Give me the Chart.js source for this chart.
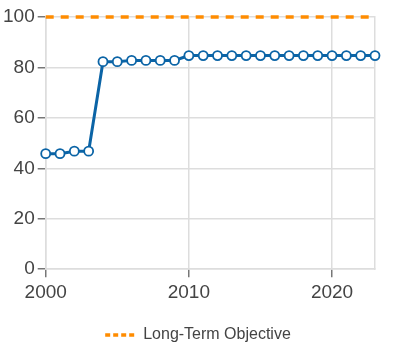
<!DOCTYPE html>
<html>
<head>
<meta charset="utf-8">
<script src="https://cdn.jsdelivr.net/npm/chart.js@4"></script>
<style>
  html, body { margin: 0; padding: 0; background: #fff; }
  #wrap { width: 406px; height: 348px; }
</style>
</head>
<body>
<div id="wrap"><canvas id="chart"></canvas></div>
<script>
// years and index values
const years = [2000, 2001, 2002, 2003, 2004, 2005, 2006, 2007, 2008, 2009, 2010, 2011,
               2012, 2013, 2014, 2015, 2016, 2017, 2018, 2019, 2020, 2021, 2022, 2023];
const values = [45.8, 45.8, 46.8, 46.8, 82.3, 82.3, 82.8, 82.8, 82.8, 82.8, 84.7, 84.7,
                84.7, 84.7, 84.7, 84.7, 84.7, 84.7, 84.7, 84.7, 84.7, 84.7, 84.7, 84.7];
// long-term target level
const objective = 100;
const objectiveLabel = 'Long-Term Objective';
const yTicks = [0, 20, 40, 60, 80, 100];
const xTicks = [2000, 2010, 2020];

const gridColor = '#dddddd';
const tickColor = '#777777';
const textColor = '#444444';

Chart.defaults.font.family = '"Liberation Sans", Arial, sans-serif';
Chart.defaults.color = textColor;

new Chart(document.getElementById('chart'), {
    type: 'line',
    data: {
        datasets: [
            {
                label: 'Index',
                data: years.map((y, i) => ({ x: y, y: values[i] })),
                borderColor: '#0b64a6',
                borderWidth: 3,
                pointRadius: 4.5,
                pointBorderWidth: 1.8,
                pointBackgroundColor: '#ffffff',
                pointBorderColor: '#0b64a6',
                tension: 0,
                clip: false
            },
            {
                label: objectiveLabel,
                data: [{ x: years[0], y: objective }, { x: years[years.length - 1], y: objective }],
                borderColor: '#ff8c00',
                backgroundColor: '#ff8c00',
                borderWidth: 3.5,
                borderDash: [8, 7],
                pointRadius: 0,
                pointStyle: 'line',
                clip: false
            }
        ]
    },
    options: {
        responsive: true,
        maintainAspectRatio: false,
        animation: false,
        layout: { padding: { left: 0, right: 10, top: 17, bottom: -5 } },
        scales: {
            x: {
                type: 'linear',
                min: years[0],
                max: years[years.length - 1],
                afterBuildTicks: axis => { axis.ticks = xTicks.map(v => ({ value: v })); },
                afterFit: axis => { axis.height += 16; },
                ticks: {
                    font: { size: 19 },
                    color: textColor,
                    padding: 4,
                    maxRotation: 0,
                    callback: v => String(v)
                },
                grid: { color: gridColor, tickColor: tickColor, tickLength: 8, lineWidth: 1.5 },
                border: { color: gridColor, width: 1.5 }
            },
            y: {
                min: 0,
                max: 100,
                afterBuildTicks: axis => { axis.ticks = yTicks.map(v => ({ value: v })); },
                ticks: { font: { size: 19 }, color: textColor, padding: 3 },
                grid: { color: gridColor, tickColor: tickColor, tickLength: 8, lineWidth: 1.5 },
                border: { color: gridColor, width: 1.5 }
            },
            // plain frame line on the right edge
            yRight: {
                position: 'right',
                min: 0,
                max: 100,
                afterFit: axis => { axis.width = 21; },
                ticks: { display: false },
                grid: { display: false },
                border: { color: gridColor, width: 1.5 }
            }
        },
        plugins: {
            legend: {
                position: 'bottom',
                labels: {
                    font: { size: 16 },
                    color: textColor,
                    usePointStyle: true,
                    pointStyleWidth: 30,
                    boxHeight: 10,
                    padding: 3,
                    filter: item => item.text === objectiveLabel,
                    generateLabels: chart => Chart.defaults.plugins.legend.labels.generateLabels(chart)
                        .map(item => Object.assign(item, { lineDash: [5, 3], lineWidth: 3.5 }))
                }
            },
            tooltip: { enabled: false }
        }
    }
});
</script>
</body>
</html>
